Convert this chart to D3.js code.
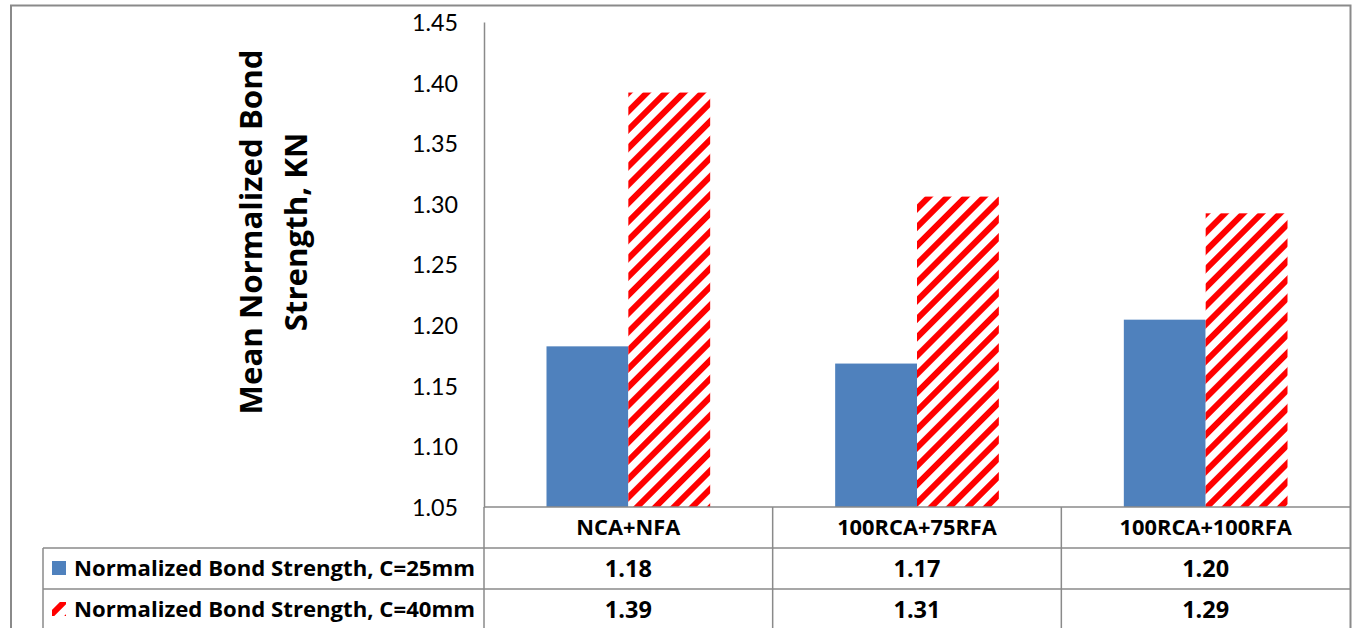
<!DOCTYPE html>
<html>
<head>
<meta charset="utf-8">
<script src="https://cdn.jsdelivr.net/npm/d3@7"></script>
<style>
  html, body { margin: 0; padding: 0; background: #fff; }
  svg { display: block; font-family: "Open Sans", Lato, sans-serif; }
</style>
</head>
<body>
<svg id="chart" width="1356" height="628"></svg>
<script>
// Mixes and the two cover depths
const categories = ["NCA+NFA", "100RCA+75RFA", "100RCA+100RFA"];
const seriesNames = ["Normalized Bond Strength, C=25mm", "Normalized Bond Strength, C=40mm"];
const cover25 = [1.1825, 1.1683, 1.2045];
const cover40 = [1.3918, 1.3060, 1.2922];
const yTicks = [1.05, 1.10, 1.15, 1.20, 1.25, 1.30, 1.35, 1.40, 1.45];

const seriesValues = [cover25, cover40];
const fmt = d3.format(".2f");

const svg = d3.select("#chart");
const W = 1356, H = 628;

// layout
const plot = { left: 484, right: 1350, top: 22, bottom: 507 };
const table = { left: 43, right: 1350, headerBottom: 548, row1Bottom: 589, bottom: 640 };
const gridColor = "#8a8a8a";

// scale a group of labels so that its first label spans the given width
function fitGroup(sel, width) {
  const first = sel.node();
  const fs = parseFloat(d3.select(first).attr("font-size"));
  const w = first.getComputedTextLength();
  if (w > 0) sel.attr("font-size", (fs * width / w).toFixed(2));
}

// stripe pattern for the 40 mm series
const defs = svg.append("defs");
const pat = defs.append("pattern")
  .attr("id", "redStripes")
  .attr("patternUnits", "userSpaceOnUse")
  .attr("width", 13).attr("height", 13)
  .attr("patternTransform", "rotate(45)");
pat.append("rect").attr("width", 13).attr("height", 13).attr("fill", "#fff");
pat.append("rect").attr("width", 6).attr("height", 13).attr("fill", "#ff0000");

const fills = ["#4f81bd", "url(#redStripes)"];

// outer frame
svg.append("path")
  .attr("d", `M11,${H + 5} V5.5 H1350.5 V${H + 5}`)
  .attr("fill", "none").attr("stroke", gridColor).attr("stroke-width", 2);

// scales
const x = d3.scaleBand().domain(categories).range([plot.left, plot.right]).padding(0);
const groupWidth = x.bandwidth() * 0.567;
const xs = d3.scaleBand().domain(d3.range(seriesNames.length)).range([0, groupWidth]).padding(0);
const y = d3.scaleLinear().domain([1.05, 1.45]).range([plot.bottom, plot.top]);

// bars
seriesValues.forEach((vals, si) => {
  svg.append("g").selectAll("rect")
    .data(vals)
    .join("rect")
    .attr("x", (d, i) => x(categories[i]) + (x.bandwidth() - groupWidth) / 2 + xs(si))
    .attr("y", d => y(d))
    .attr("width", xs.bandwidth())
    .attr("height", d => y(1.05) - y(d))
    .attr("fill", fills[si]);
});

// y axis
const yAxis = d3.axisLeft(y).tickValues(yTicks).tickFormat(fmt).tickSize(0).tickPadding(26);
const ya = svg.append("g").attr("transform", `translate(${plot.left},0)`).call(yAxis);
ya.select(".domain").attr("stroke", gridColor).attr("stroke-width", 1.5);
ya.selectAll("text").attr("font-size", 22).attr("fill", "#000")
  .attr("font-family", "Lato, sans-serif").attr("dy", "0.36em");
fitGroup(ya.selectAll(".tick text"), 46);

// y title
const title = svg.append("text")
  .attr("transform", "translate(0,232) rotate(-90)")
  .attr("text-anchor", "middle")
  .attr("font-weight", "bold").attr("font-size", 30).attr("fill", "#000");
title.append("tspan").attr("x", 0).attr("y", 262).text("Mean Normalized Bond");
title.append("tspan").attr("x", 0).attr("y", 307).text("Strength, KN");
{
  const t1 = title.select("tspan").node();
  const w = t1.getComputedTextLength();
  if (w > 0) title.attr("font-size", (30 * 365 / w).toFixed(2));
}

// data table lines
const lines = svg.append("g").attr("stroke", gridColor).attr("stroke-width", 1.5).attr("fill", "none");
lines.append("line").attr("x1", plot.left).attr("x2", table.right).attr("y1", plot.bottom).attr("y2", plot.bottom);
lines.append("line").attr("x1", table.left).attr("x2", table.right).attr("y1", table.headerBottom).attr("y2", table.headerBottom);
lines.append("line").attr("x1", table.left).attr("x2", table.right).attr("y1", table.row1Bottom).attr("y2", table.row1Bottom);
lines.append("line").attr("x1", table.left).attr("x2", table.left).attr("y1", table.headerBottom).attr("y2", table.bottom);
lines.append("line").attr("x1", plot.left).attr("x2", plot.left).attr("y1", plot.bottom).attr("y2", table.bottom);
categories.slice(1).forEach(c => {
  lines.append("line").attr("x1", x(c)).attr("x2", x(c)).attr("y1", plot.bottom).attr("y2", table.bottom);
});

// category header
const catLabels = svg.append("g").selectAll("text")
  .data(categories)
  .join("text")
  .attr("x", d => x(d) + x.bandwidth() / 2)
  .attr("y", (plot.bottom + table.headerBottom) / 2)
  .attr("dy", "0.36em")
  .attr("text-anchor", "middle")
  .attr("font-weight", "bold").attr("font-size", 20)
  .text(d => d);
fitGroup(catLabels, 104);

// table rows: legend key, series name, values
const rowCenters = [(table.headerBottom + table.row1Bottom) / 2, table.row1Bottom + 20.5];
seriesNames.forEach((name, si) => {
  const cy = rowCenters[si];
  svg.append("rect")
    .attr("x", 52).attr("y", cy - 7.5).attr("width", 14).attr("height", 14)
    .attr("fill", fills[si]);
  const nameText = svg.append("text")
    .attr("x", 74).attr("y", cy).attr("dy", "0.36em")
    .attr("font-weight", "bold").attr("font-size", 21)
    .text(name);
  fitGroup(nameText, 401);
  const vals = svg.append("g").selectAll("text")
    .data(seriesValues[si])
    .join("text")
    .attr("x", (d, i) => x(categories[i]) + x.bandwidth() / 2)
    .attr("y", cy).attr("dy", "0.36em")
    .attr("text-anchor", "middle")
    .attr("font-weight", "bold").attr("font-size", 21)
    .text(d => fmt(d));
  fitGroup(vals, 47);
});
</script>
</body>
</html>
